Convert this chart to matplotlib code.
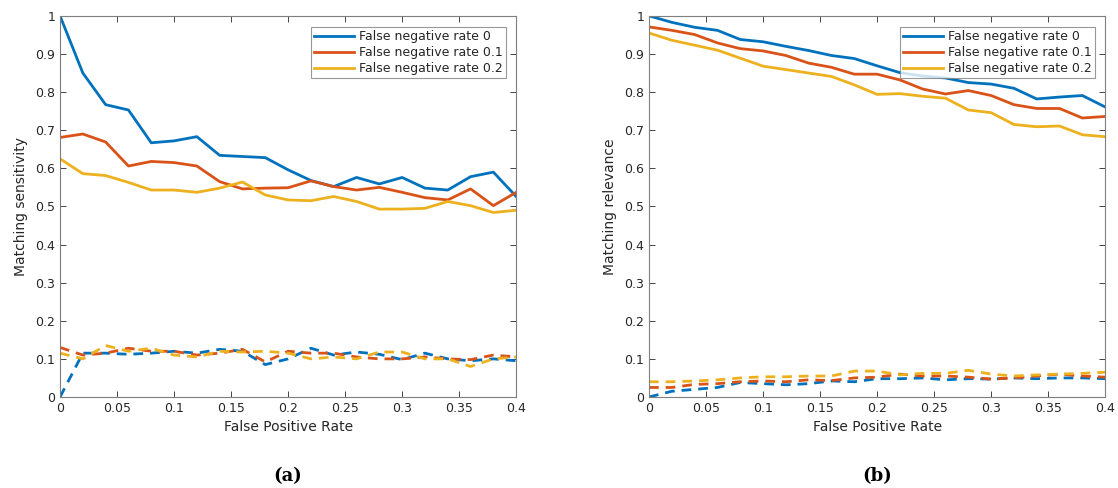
import matplotlib
matplotlib.use('Agg')
import matplotlib.pyplot as plt
import numpy as np

fpr = np.arange(21) * 0.02
labels = ['False negative rate 0', 'False negative rate 0.1', 'False negative rate 0.2']
colors = ['#0072BD', '#D95319', '#EDB120']

# (a) matching sensitivity
sens_fn0 = [1.0, 0.85, 0.767, 0.753, 0.667, 0.672, 0.683, 0.634, 0.631, 0.628, 0.596,
            0.568, 0.552, 0.576, 0.559, 0.576, 0.548, 0.543, 0.578, 0.590, 0.526]
sens_fn1 = [0.681, 0.690, 0.669, 0.606, 0.618, 0.615, 0.606, 0.565, 0.546, 0.548, 0.549,
            0.567, 0.552, 0.543, 0.550, 0.537, 0.523, 0.517, 0.546, 0.502, 0.537]
sens_fn2 = [0.625, 0.586, 0.581, 0.563, 0.543, 0.543, 0.537, 0.548, 0.564, 0.530, 0.517,
            0.515, 0.526, 0.513, 0.493, 0.493, 0.495, 0.513, 0.502, 0.484, 0.490]
sens_fn0_d = [0.0, 0.115, 0.115, 0.112, 0.115, 0.120, 0.115, 0.125, 0.120, 0.085, 0.100,
              0.128, 0.110, 0.118, 0.112, 0.098, 0.115, 0.100, 0.095, 0.100, 0.095]
sens_fn1_d = [0.130, 0.110, 0.115, 0.128, 0.120, 0.120, 0.110, 0.115, 0.125, 0.092, 0.120,
              0.115, 0.115, 0.105, 0.100, 0.100, 0.105, 0.100, 0.098, 0.110, 0.105]
sens_fn2_d = [0.115, 0.100, 0.135, 0.120, 0.128, 0.110, 0.105, 0.120, 0.118, 0.120, 0.115,
              0.100, 0.105, 0.100, 0.118, 0.118, 0.100, 0.100, 0.080, 0.100, 0.105]

# (b) matching relevance
rel_fn0 = [1.0, 0.983, 0.970, 0.962, 0.938, 0.932, 0.920, 0.909, 0.896, 0.888, 0.869,
           0.851, 0.842, 0.837, 0.825, 0.821, 0.810, 0.782, 0.787, 0.791, 0.761]
rel_fn1 = [0.971, 0.962, 0.951, 0.929, 0.914, 0.908, 0.896, 0.876, 0.865, 0.847, 0.847,
           0.832, 0.808, 0.795, 0.804, 0.791, 0.767, 0.757, 0.757, 0.732, 0.736]
rel_fn2 = [0.955, 0.936, 0.923, 0.910, 0.889, 0.868, 0.859, 0.850, 0.841, 0.819, 0.794,
           0.796, 0.789, 0.784, 0.753, 0.746, 0.715, 0.709, 0.711, 0.688, 0.683]
rel_fn0_d = [0.0, 0.015, 0.020, 0.025, 0.038, 0.035, 0.032, 0.035, 0.042, 0.040, 0.048,
             0.048, 0.050, 0.045, 0.048, 0.047, 0.050, 0.048, 0.050, 0.050, 0.048]
rel_fn1_d = [0.025, 0.025, 0.033, 0.035, 0.040, 0.042, 0.040, 0.045, 0.043, 0.050, 0.052,
             0.060, 0.055, 0.055, 0.052, 0.047, 0.050, 0.055, 0.060, 0.055, 0.052]
rel_fn2_d = [0.040, 0.040, 0.042, 0.045, 0.050, 0.053, 0.053, 0.055, 0.055, 0.068, 0.068,
             0.058, 0.062, 0.062, 0.070, 0.060, 0.055, 0.058, 0.060, 0.062, 0.065]

plt.rcParams['font.family'] = 'DejaVu Sans'
txt = '#262626'

fig = plt.figure(figsize=(11.18, 4.88), dpi=100)
ax1 = fig.add_axes([0.0537, 0.1865, 0.408, 0.781])
ax2 = fig.add_axes([0.5805, 0.1865, 0.408, 0.781])

panels = [
    (ax1, [sens_fn0, sens_fn1, sens_fn2], [sens_fn0_d, sens_fn1_d, sens_fn2_d], 'Matching sensitivity', '(a)'),
    (ax2, [rel_fn0, rel_fn1, rel_fn2], [rel_fn0_d, rel_fn1_d, rel_fn2_d], 'Matching relevance', '(b)'),
]

for ax, solid, dashed, ylab, tag in panels:
    for y, c, lab in zip(solid, colors, labels):
        ax.plot(fpr, y, color=c, lw=2.0, label=lab)
    for y, c in zip(dashed, colors):
        ax.plot(fpr, y, color=c, lw=2.0, linestyle=(0, (3.5, 2.5)))
    ax.set_xlim(0, 0.4)
    ax.set_ylim(0, 1)
    ax.set_xticks(np.arange(0, 0.41, 0.05))
    ax.set_xticklabels(['0', '0.05', '0.1', '0.15', '0.2', '0.25', '0.3', '0.35', '0.4'])
    ax.set_yticks(np.arange(0, 1.01, 0.1))
    ax.set_yticklabels(['0'] + ['%.1f' % v for v in np.arange(0.1, 0.95, 0.1)] + ['1'])
    ax.tick_params(direction='in', top=True, right=True, labelsize=9, colors=txt, length=4, width=0.6)
    for s in ax.spines.values():
        s.set_color('#7f7f7f')
        s.set_linewidth(0.8)
    ax.set_xlabel('False Positive Rate', fontsize=10, color=txt, labelpad=4)
    ax.set_ylabel(ylab, fontsize=10, color=txt, labelpad=5)
    leg = ax.legend(loc='upper right', bbox_to_anchor=(0.978, 0.971), fontsize=9, frameon=True,
                    fancybox=False, edgecolor='#7f7f7f', borderpad=0.25, labelspacing=0.25,
                    handlelength=3.2, handletextpad=0.4, borderaxespad=0.0)
    leg.get_frame().set_linewidth(0.8)
    for t in leg.get_texts():
        t.set_color(txt)
    ax.text(0.5, -0.185, tag, transform=ax.transAxes, ha='center', va='top',
            fontsize=13, fontweight='bold', family='DejaVu Serif', color='black')

fig.savefig('out.png', dpi=100)
